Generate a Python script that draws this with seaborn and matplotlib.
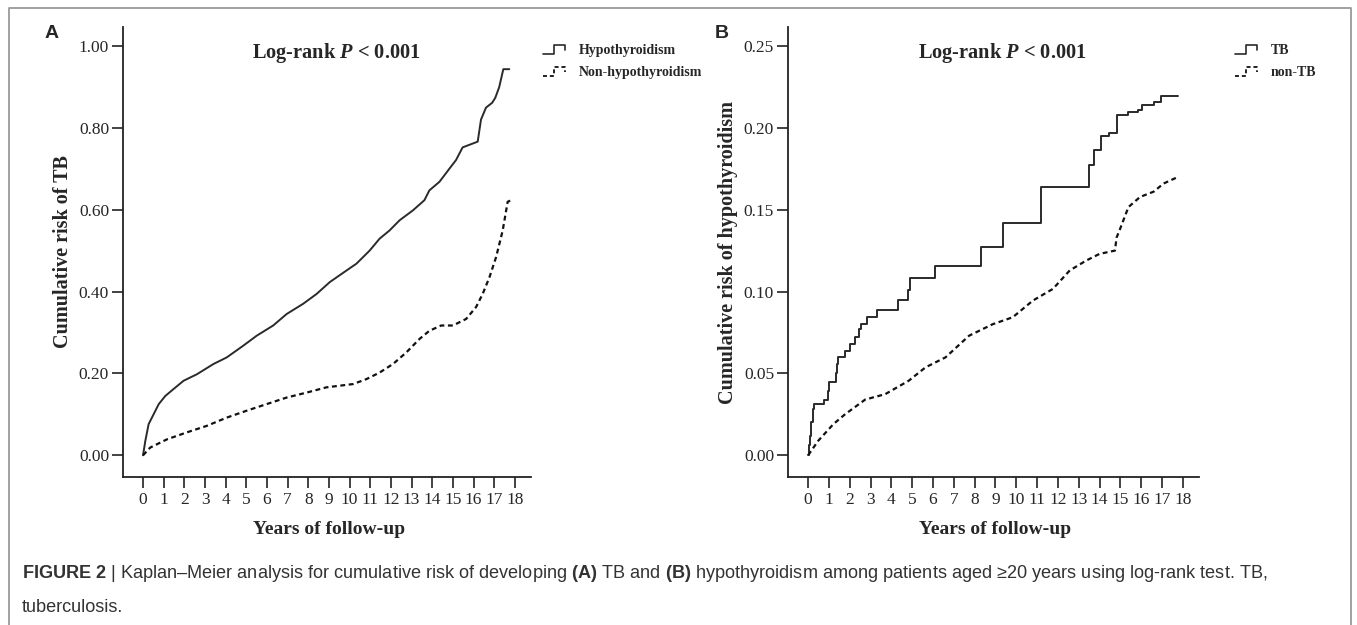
import numpy as np
import pandas as pd
import seaborn as sns
import matplotlib
matplotlib.use("Agg")
import matplotlib.pyplot as plt
from matplotlib.lines import Line2D
from matplotlib.legend_handler import HandlerBase

# ---------------- data ----------------
x_ticks = list(range(0, 19))

# Panel A: cumulative risk of TB
a_hypo_t = [0, 0.11, 0.27, 0.51, 0.76, 1.08, 1.48, 1.96, 2.61, 3.41, 4.05, 4.86, 5.5, 6.3,
            6.95, 7.75, 8.4, 9.04, 9.84, 10.33, 10.97, 11.45, 11.93, 12.42, 13.06, 13.62,
            13.86, 14.35, 14.83, 15.15, 15.47, 16.2, 16.36, 16.6, 16.9, 17.05, 17.24, 17.44, 17.73]
a_hypo_y = [0, 0.035, 0.076, 0.10, 0.125, 0.145, 0.162, 0.182, 0.198, 0.223, 0.239, 0.268, 0.292, 0.317,
            0.345, 0.37, 0.394, 0.423, 0.451, 0.468, 0.50, 0.529, 0.549, 0.574, 0.598, 0.623,
            0.647, 0.668, 0.70, 0.721, 0.752, 0.766, 0.82, 0.849, 0.861, 0.873, 0.899, 0.943, 0.943]

a_non_t = [0, 0.35, 1.16, 2.12, 3.09, 4.05, 5.02, 5.98, 6.95, 7.91, 8.88, 10.17, 10.81, 11.45,
           12.10, 12.74, 13.38, 13.86, 14.43, 15.00, 15.64, 16.12, 16.44, 16.77, 17.09, 17.41, 17.65, 17.81]
a_non_y = [0, 0.019, 0.039, 0.056, 0.072, 0.092, 0.109, 0.125, 0.141, 0.153, 0.166, 0.174, 0.186, 0.202,
           0.223, 0.251, 0.284, 0.304, 0.317, 0.317, 0.333, 0.362, 0.394, 0.435, 0.484, 0.549, 0.619, 0.623]

# Panel B: cumulative risk of hypothyroidism
b_tb_t = [0, 0.05, 0.10, 0.15, 0.22, 0.30, 0.77, 0.93, 1.00, 1.32, 1.37, 1.45, 1.77, 2.03, 2.26,
          2.45, 2.55, 2.85, 3.30, 4.30, 4.80, 4.91, 6.07, 8.30, 9.38, 11.20, 13.50, 13.72, 14.08,
          14.45, 14.86, 15.35, 15.85, 16.06, 16.60, 16.94, 17.75]
b_tb_y = [0, 0.006, 0.012, 0.020, 0.028, 0.031, 0.034, 0.039, 0.045, 0.050, 0.056, 0.060, 0.0635, 0.068, 0.0724,
          0.077, 0.080, 0.0843, 0.089, 0.095, 0.101, 0.108, 0.1155, 0.127, 0.142, 0.164, 0.1776, 0.1863, 0.1948,
          0.197, 0.2081, 0.2097, 0.2107, 0.2138, 0.2159, 0.2196, 0.2196]

b_non_t = [0, 0.48, 1.21, 1.77, 2.74, 3.70, 4.83, 5.64, 6.60, 7.73, 8.86, 9.83, 10.80, 11.76, 12.57,
           13.37, 14.00, 14.74, 14.82, 14.98, 15.39, 15.95, 16.60, 17.08, 17.77]
b_non_y = [0, 0.0088, 0.019, 0.025, 0.034, 0.0373, 0.0455, 0.0537, 0.0598, 0.073, 0.080, 0.0843, 0.0945, 0.1016,
           0.1129, 0.119, 0.123, 0.125, 0.133, 0.138, 0.1516, 0.1578, 0.161, 0.166, 0.170]

a_labels = ["Hypothyroidism", "Non-hypothyroidism"]
b_labels = ["TB", "non-TB"]
a_yticks = [0.0, 0.2, 0.4, 0.6, 0.8, 1.0]
b_yticks = [0.0, 0.05, 0.10, 0.15, 0.20, 0.25]

# ---------------- style ----------------
sns.set_style("ticks")
plt.rcParams["font.family"] = ["Liberation Serif", "DejaVu Serif"]
plt.rcParams["mathtext.fontset"] = "custom"
plt.rcParams["mathtext.rm"] = "Liberation Serif"
plt.rcParams["mathtext.it"] = "Liberation Serif:italic:bold"
plt.rcParams["mathtext.bf"] = "Liberation Sans:bold"

W, H = 1357, 625
fig = plt.figure(figsize=(W / 100, H / 100), dpi=100)

SOLID_C = "#2a2a2a"
DASH_C = "#111111"
DASH = (0, (2.2, 1.6))


class StepHandler(HandlerBase):
    def create_artists(self, legend, orig_handle, xdescent, ydescent,
                       width, height, fontsize, trans):
        x0, y0 = -xdescent, -ydescent
        xs = [x0, x0 + 0.42 * width, x0 + 0.42 * width, x0 + 0.85 * width, x0 + 0.85 * width]
        ys = [y0 + 0.05 * height, y0 + 0.05 * height, y0 + 0.95 * height,
              y0 + 0.95 * height, y0 + 0.45 * height]
        ln = Line2D(xs, ys)
        ln.update_from(orig_handle)
        ln.set_transform(trans)
        return [ln]


def panel(rect, solid_t, solid_y, dash_t, dash_y, solid_steps, yticks, ylim,
          ylabel, labels, leg_x, letter, letter_x):
    ax = fig.add_axes(rect)
    df_s = pd.DataFrame({"t": solid_t, "risk": solid_y})
    df_d = pd.DataFrame({"t": dash_t, "risk": dash_y})
    kw = {"drawstyle": "steps-post"} if solid_steps else {}
    sns.lineplot(data=df_s, x="t", y="risk", ax=ax, color=SOLID_C, lw=1.4,
                 estimator=None, **kw)
    sns.lineplot(data=df_d, x="t", y="risk", ax=ax, color=DASH_C, lw=1.6,
                 estimator=None, linestyle=DASH)
    ax.set_xlim(-0.97, 18.78)
    ax.set_ylim(*ylim)
    ax.set_xticks(x_ticks)
    ax.set_xticklabels([str(v) for v in x_ticks])
    ax.set_yticks(yticks)
    ax.set_yticklabels([f"{v:.2f}" for v in yticks])
    for s in ["top", "right"]:
        ax.spines[s].set_visible(False)
    for s in ["left", "bottom"]:
        ax.spines[s].set_linewidth(1.3)
        ax.spines[s].set_color("#222222")
    ax.tick_params(axis="both", direction="out", length=8, width=1.2,
                   color="#222222", labelsize=12.5, pad=2)
    ax.tick_params(axis="x", pad=3)
    ax.set_ylabel(ylabel, fontsize=14.5, fontweight="bold", va="center")
    ax.yaxis.set_label_coords(-0.147, 0.5)
    ax.set_xlabel("Years of follow-up", fontsize=14, fontweight="bold", va="center")
    ax.xaxis.set_label_coords(0.505, -0.1156)
    ax.text(0.522, 0.942, r"Log-rank $P$ < 0.001", transform=ax.transAxes,
            ha="center", va="center", fontsize=14.7, fontweight="bold")
    handles = [Line2D([], [], color=SOLID_C, lw=1.2),
               Line2D([], [], color=DASH_C, lw=1.3, linestyle=DASH)]
    ax.legend(handles, labels, handler_map={Line2D: StepHandler()},
              loc="upper left", bbox_to_anchor=(leg_x, 1 - 44 / H),
              bbox_transform=fig.transFigure, frameon=False, borderpad=0,
              borderaxespad=0, handlelength=1.9, handletextpad=0.7,
              labelspacing=0.65, prop={"family": "Liberation Serif",
                                       "weight": "bold", "size": 10})
    fig.text(letter_x / W, 1 - 34 / H, letter, ha="center", va="center",
             fontsize=14, fontweight="bold", family="Liberation Sans")
    return ax


bottom = 1 - 477 / H
height = (477 - 27) / H
panel([123 / W, bottom, 408 / W, height], a_hypo_t, a_hypo_y, a_non_t, a_non_y,
      False, a_yticks, (-0.053, 1.046), "Cumulative risk of TB", a_labels,
      543 / W, "A", 52)
panel([788 / W, bottom, 411 / W, height], b_tb_t, b_tb_y, b_non_t, b_non_y,
      True, b_yticks, (-0.0133, 0.2616), "Cumulative risk of hypothyroidism", b_labels,
      1235 / W, "B", 722)

# outer frame
fig.add_artist(Line2D([9 / W, 9 / W, 1351 / W, 1351 / W],
                      [-0.02, 1 - 8 / H, 1 - 8 / H, -0.02],
                      transform=fig.transFigure, color="#9a9a9a", lw=1.3))

# caption
cap1 = (r"$\mathbf{FIGURE\ 2}$ | Kaplan–Meier analysis for cumulative risk of developing "
        r"$\mathbf{(A)}$ TB and $\mathbf{(B)}$ hypothyroidism among patients aged ≥20 years "
        r"using log-rank test. TB,")
fig.text(22 / W, 1 - 574 / H, cap1, ha="left", va="center", fontsize=13.1,
         family="Liberation Sans", color="#333333")
fig.text(22 / W, 1 - 607 / H, "tuberculosis.", ha="left", va="center", fontsize=13.1,
         family="Liberation Sans", color="#333333")

fig.savefig("out.png", dpi=100)
